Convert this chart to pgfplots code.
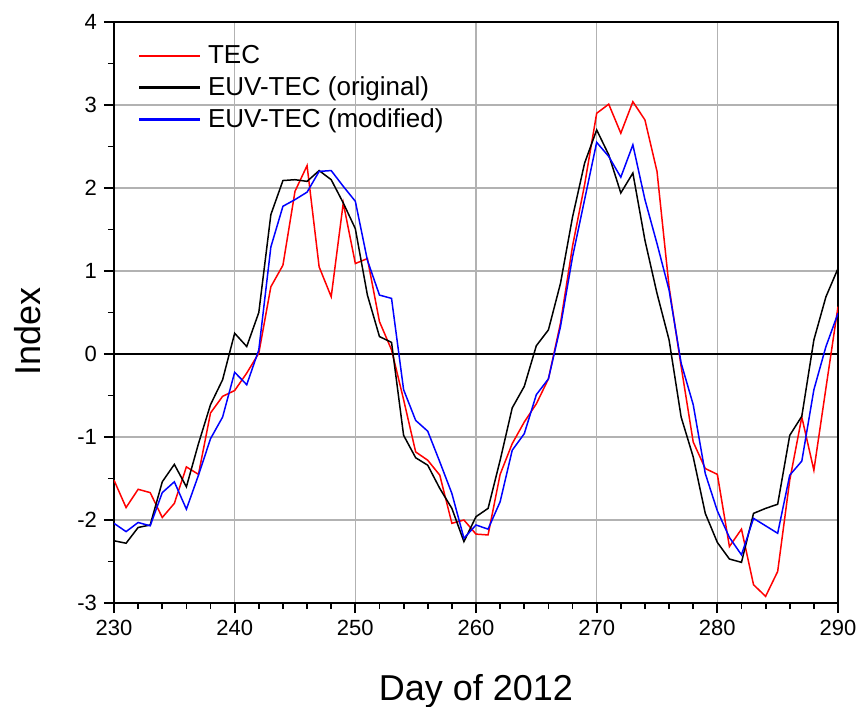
\documentclass[border=0pt]{standalone}
\usepackage{pgfplots}
\pgfplotsset{compat=1.18}
\usepackage{pgfplotstable}
\usepackage{fontspec}
\setmainfont{Liberation Sans}
\pgfplotstableread{
day tec orig mod
230 -1.52 -2.25 -2.04
231 -1.85 -2.28 -2.14
232 -1.63 -2.09 -2.03
233 -1.67 -2.06 -2.07
234 -1.97 -1.54 -1.67
235 -1.80 -1.33 -1.54
236 -1.36 -1.60 -1.87
237 -1.45 -1.08 -1.46
238 -0.71 -0.61 -1.02
239 -0.51 -0.31 -0.76
240 -0.44 0.25 -0.22
241 -0.23 0.09 -0.37
242 0.01 0.50 0.05
243 0.81 1.68 1.29
244 1.07 2.09 1.78
245 1.96 2.10 1.86
246 2.27 2.08 1.95
247 1.05 2.21 2.20
248 0.69 2.10 2.21
249 1.82 1.82 2.02
250 1.09 1.51 1.84
251 1.15 0.71 1.13
252 0.39 0.21 0.71
253 0.05 0.14 0.67
254 -0.55 -0.98 -0.43
255 -1.18 -1.25 -0.80
256 -1.28 -1.34 -0.93
257 -1.46 -1.62 -1.30
258 -2.04 -1.86 -1.68
259 -2.00 -2.26 -2.22
260 -2.17 -1.96 -2.06
261 -2.18 -1.86 -2.11
262 -1.45 -1.28 -1.78
263 -1.08 -0.65 -1.16
264 -0.82 -0.39 -0.96
265 -0.60 0.10 -0.49
266 -0.30 0.29 -0.30
267 0.37 0.85 0.33
268 1.30 1.65 1.17
269 2.04 2.30 1.86
270 2.90 2.70 2.55
271 3.01 2.40 2.38
272 2.66 1.94 2.13
273 3.04 2.18 2.52
274 2.82 1.37 1.86
275 2.20 0.73 1.33
276 0.81 0.17 0.77
277 -0.15 -0.76 -0.11
278 -1.06 -1.24 -0.61
279 -1.38 -1.92 -1.44
280 -1.45 -2.27 -1.89
281 -2.32 -2.47 -2.21
282 -2.11 -2.51 -2.42
283 -2.78 -1.92 -1.98
284 -2.92 -1.86 -2.07
285 -2.62 -1.81 -2.16
286 -1.52 -0.98 -1.46
287 -0.76 -0.75 -1.29
288 -1.40 0.17 -0.43
289 -0.41 0.69 0.09
290 0.57 1.03 0.49
}\datatable
\begin{document}
\begin{tikzpicture}
\path[use as bounding box] (-57pt,-51.5pt) rectangle (373pt,301.5pt);
\begin{axis}[
  scale only axis,
  width=362pt, height=290.5pt,
  xmin=230, xmax=290, ymin=-3, ymax=4,
  xtick={230,240,...,290},
  xticklabels={230,240,250,260,270,280,290},
  ytick={-3,-2,...,4},
  yticklabels={-3,-2,-1,0,1,2,3,4},
  extra y ticks={0},
  extra y tick labels={},
  extra y tick style={major grid style={black, line width=1.1pt}, major tick length=0pt},
  minor x tick num=4,
  minor y tick num=1,
  tick align=outside,
  xtick pos=bottom, ytick pos=left,
  major tick length=5pt, minor tick length=3pt,
  every tick/.style={black, line width=0.9pt},
  axis line style={line width=1pt},
  grid=major,
  major grid style={gray!60, line width=0.7pt},
  tick label style={font=\fontsize{11}{13}\selectfont},
  xlabel={Day of 2012}, ylabel={Index},
  label style={font=\fontsize{18}{21}\selectfont},
  xlabel style={at={(axis description cs:0.5,-0.152)}, anchor=center},
  ylabel style={at={(axis description cs:-0.119,0.468)}, anchor=center},
  legend style={draw=none, fill=none, text=black, at={(axis description cs:0.026,0.974)}, anchor=north west,
    font=\fontsize{13}{15}\selectfont, row sep=1pt, nodes={inner xsep=4pt}},
  legend cell align=left,
]
\addlegendimage{legend image code/.code={\fill[red] (0pt,-0.4pt) rectangle (30pt,0.4pt);}}
\addlegendentry{TEC}
\addlegendimage{legend image code/.code={\fill[black] (0pt,-0.4pt) rectangle (30pt,0.4pt);}}
\addlegendentry{EUV-TEC (original)}
\addlegendimage{legend image code/.code={\fill[blue] (0pt,-0.4pt) rectangle (30pt,0.4pt);}}
\addlegendentry{EUV-TEC (modified)}
\addplot[forget plot, red, line width=0.75pt] table[x=day, y=tec] {\datatable};
\addplot[forget plot, black, line width=0.75pt] table[x=day, y=orig] {\datatable};
\addplot[forget plot, blue, line width=0.75pt] table[x=day, y=mod] {\datatable};
\end{axis}
\end{tikzpicture}
\end{document}
